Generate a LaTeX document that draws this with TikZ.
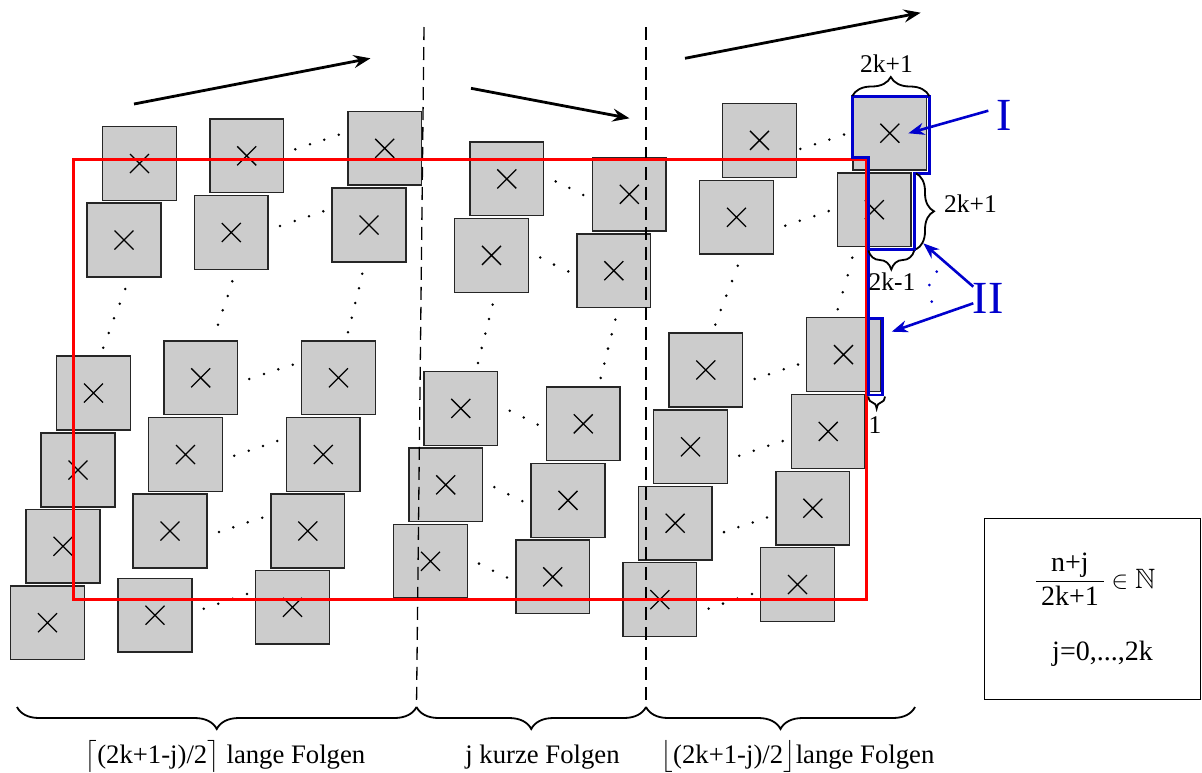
\documentclass[tikz,border=0pt]{standalone}
\usepackage{amsmath,amssymb}
\usepackage{fontspec}
\setmainfont{Liberation Serif}
\usetikzlibrary{arrows.meta,decorations.pathreplacing}

\definecolor{sqfill}{gray}{0.8}
\definecolor{hlblue}{RGB}{0,0,205}

\tikzset{
  sq/.style={draw=black!85, line width=1.4pt, fill=sqfill,
    minimum width=73.7pt, minimum height=73.7pt, inner sep=0pt,
    path picture={\draw[black, line width=1.3pt]
      ([shift={(-9.5pt,-9.5pt)}]path picture bounding box.center) --
      ([shift={(9.5pt,9.5pt)}]path picture bounding box.center)
      ([shift={(-9.5pt,9.5pt)}]path picture bounding box.center) --
      ([shift={(9.5pt,-9.5pt)}]path picture bounding box.center);}},
  seqarrow/.style={line width=2.8pt, -{Stealth[length=17pt,width=13pt,inset=6pt]}},
  bluearrow/.style={hlblue, line width=2.6pt, -{Stealth[length=16pt,width=12pt,inset=5pt]}},
  hl/.style={hlblue, line width=2.8pt, line join=miter},
  sep/.style={line width=1.3pt, dash pattern=on 13pt off 7pt},
  brc/.style={line width=1.8pt, decorate, decoration={brace, amplitude=#1}},
  lbl/.style={font=\fontsize{25.5}{30}\selectfont, inner sep=0pt},
  biglbl/.style={font=\fontsize{26.7}{31}\selectfont, inner sep=0pt},
  boxlbl/.style={font=\fontsize{28}{32}\selectfont, inner sep=0pt},
  roman/.style={hlblue, font=\fontsize{46}{50}\selectfont, inner sep=0pt},
}

\begin{document}
\begin{tikzpicture}[x=1pt,y=-1pt]
\useasboundingbox (0,0) rectangle (1202,772);

% ---- squares, one per sequence element ----
\foreach \n/\x/\y in {
  A1/139.5/163.5, A2/124/240, A3/93.5/393, A4/78/470, A5/63/546.3, A6/47.5/622.7,
  B1/246.7/155.8, B2/231.3/232.5, B3/200.7/377.8, B4/185.5/454.5, B5/170/531, B6/155/615.2,
  C1/384.7/148.3, C2/369/225, C3/338.5/377.8, C4/323.3/454.5, C5/307.8/531, C6/292.5/607.3,
  D1/506.8/178.9, D2/491.5/255.4, D3/460.8/408.4, D4/445.7/484.8, D5/430.5/561.3,
  E1/629.3/194.3, E2/613.8/270.7, E3/583.3/423.8, E4/568/500.4, E5/552.7/576.8,
  F1/759.5/140.4, F2/736.5/217.3, F3/705.8/370, F4/690.5/446.8, F5/675.2/523.2, F6/659.8/599.6,
  G1/889.8/133.2, G2/874.3/209.7, G3/843.5/354.6, G4/828.2/431.4, G5/812.8/508.2, G6/797.5/584.5}
  \node[sq] (\n) at (\x,\y) {};

% ---- ellipsis dots between the squares ----
\foreach \x/\y in {
  295.3/149.3, 310/144.3, 324.3/139.7, 338.7/134.7,
  280/226, 294.7/221, 309/216.3, 323.3/211.3,
  249.3/379, 264/374, 278.3/369.3, 292.7/364.7,
  234.3/455.7, 248.7/450.7, 263/446, 277.3/441,
  219/532, 233.3/527.3, 247.7/522.3, 262.3/517.7,
  203.7/608.7, 218.3/603.7, 232.7/598.7, 247/594,
  125.3/289, 119.7/303.7, 114/318.3, 108.7/333, 103.3/347.7,
  232.3/281.3, 227.7/296, 222.7/310.3, 218/324.7,
  362.3/273.7, 359/288.3, 355.3/303, 351.7/317.7, 348/332.3,
  555.7/181.4, 569.3/187.9, 583.3/195,
  540.3/257.5, 554/264.6, 568.3/271.4,
  509.7/410.7, 523.7/417.5, 537.7/424.6,
  494.3/487.1, 508.3/494.3, 522.3/501.1,
  479/563.6, 493/570.7, 507/577.5,
  492.7/304.6, 489/318.9, 485.3/333.6, 481.7/347.9, 478/362.9,
  615.3/319.6, 611.7/334.3, 608/348.6, 604.3/363.6, 600.7/377.9,
  800.3/148.9, 815/144.3, 829.3/139.6, 844/134.6,
  785.3/225.7, 799.7/220.7, 814.3/216.1, 828.7/211.1,
  754.7/378.9, 769/374.3, 783.7/369.3, 798/364.6,
  739.3/455.7, 753.7/450.7, 768.3/445.7, 782.7/441.1,
  724/532.1, 738.3/527.1, 752.7/522.5, 767/517.5,
  708.7/608.6, 723/603.6, 737.3/598.6, 752/593.9,
  737.7/265.7, 732/281.1, 726.3/295.7, 720.7/310, 715.3/324.6,
  852.3/257.7, 847.7/275.3, 842.7/292.3, 837.7/309.3}
  \fill (\x,\y) circle[radius=1.4pt];

% ---- separators between the three groups ----
\coordinate (s1t) at (424,27);   \coordinate (s1b) at (416.5,707);
\coordinate (s2t) at (646,27);   \coordinate (s2b) at (646,707);
\draw[sep] (s1t) -- (s1b);
\draw[sep] (s2t) -- (s2b);

% ---- red frame ----
\draw[red, line width=3pt] (73.3,159) rectangle (866.7,599.5);

% ---- blue highlights: region I on top, region II down the right edge ----
\draw[hl] (868.3,318.3) -- (882.3,318.3) -- (882.3,395) -- (868.3,395)
  -- (868.3,157.3) -- (852.7,157.3) -- (852.7,96.7) -- (929.3,96.7)
  -- (929.3,173.3) -- (914.3,173.3) -- (914.3,249.3) -- (868.3,249.3);
\foreach \x/\y in {936.7/271.7, 929.3/285, 931.7/301.7}
  \fill[hlblue] (\x,\y) circle[radius=1.5pt];

% ---- direction arrows ----
\coordinate (a1s) at (134,104);   \coordinate (a1e) at (370.5,58.3);
\coordinate (a2s) at (471,88.3);  \coordinate (a2e) at (629.5,118.3);
\coordinate (a3s) at (685,58.3);  \coordinate (a3e) at (920.7,12.7);
\draw[seqarrow] (a1s) -- (a1e);
\draw[seqarrow] (a2s) -- (a2e);
\draw[seqarrow] (a3s) -- (a3e);

% ---- labels I and II with pointers ----
\node[roman] (one) at (1004,115.3) {I};
\node[roman] (two) at (988.3,298) {II};
\coordinate (oneTip) at (908.3,133.3);
\coordinate (twoTipA) at (923.3,243.3);
\coordinate (twoTipB) at (891.7,331.7);
\draw[bluearrow] (988.3,110.7) -- (oneTip);
\draw[bluearrow] (973.3,286.7) -- (twoTipA);
\draw[bluearrow] (973.3,303.3) -- (twoTipB);

% ---- size braces ----
\draw[brc=19pt] (852.3,96) -- (929.3,96);
\node[lbl] (wTop) at (886.5,64) {2k+1};
\draw[brc=18pt] (916,173.3) -- (916,249.3);
\node[lbl, anchor=west] (hRight) at (944,204) {2k+1};
\draw[brc=19pt] (914.3,250.5) -- (868.3,250.5);
\node[lbl] (wMid) at (892,282) {2k-1};
\draw[brc=12pt] (885,396.5) -- (868.3,396.5);
\node[lbl] (wOne) at (875,425) {1};

% ---- group braces and captions ----
\draw[brc=22pt] (s1b) -- (17,707);
\draw[brc=22pt] (s2b) -- (s1b);
\draw[brc=22pt] (915,707) -- (s2b);
\node[biglbl, anchor=base] (capL) at (225,763) {$\bigl\lceil$(2k+1-j)/2$\bigr\rceil$ lange Folgen};
\node[biglbl, anchor=base] (capM) at (542.5,763) {j kurze Folgen};
\node[biglbl, anchor=base] (capR) at (797.5,763) {$\bigl\lfloor$(2k+1-j)/2$\bigr\rfloor$lange Folgen};

% ---- condition box ----
\node[draw, line width=1.2pt, minimum width=216pt, minimum height=181pt, inner sep=0pt] (cond) at (1092.5,609) {};
\node[boxlbl, anchor=west] (frac) at (1035,579) {$\dfrac{\text{n+j}}{\text{\,2k+1\,}}\in\mathbb{N}$};
\node[boxlbl] (jrange) at (1102.5,654) {j=0,...,2k};
\end{tikzpicture}
\end{document}
